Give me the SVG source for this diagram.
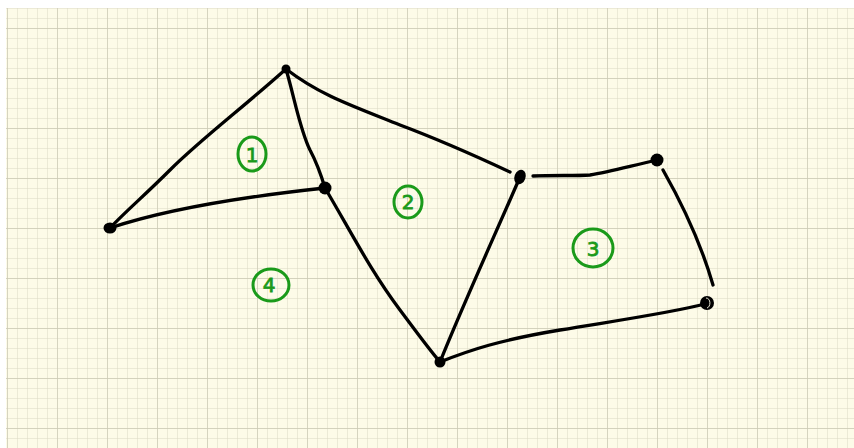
<svg xmlns="http://www.w3.org/2000/svg" width="854" height="448" viewBox="0 0 854 448">
<defs>
<pattern id="minor" x="7" y="8" width="10" height="10" patternUnits="userSpaceOnUse">
<path d="M0 0H10M0 0V10" fill="none" stroke="#dcd9c3" stroke-width="1"/>
</pattern>
<pattern id="major" x="7" y="28" width="50" height="50" patternUnits="userSpaceOnUse">
<path d="M0 0H50M0 0V50" fill="none" stroke="#cdcab5" stroke-width="1.4"/>
</pattern>
</defs>
<style>
.edge{fill:none;stroke:#000;stroke-width:3.3;stroke-linecap:round;stroke-linejoin:round}
.dot{fill:#000}
.ring{fill:none;stroke:#1a9a1a;stroke-width:3}
.lbl{fill:#1a9a1a;stroke:#1a9a1a;stroke-width:0.8;font-family:"DejaVu Sans",sans-serif;font-size:20px;text-anchor:middle}
</style>
<rect width="854" height="448" fill="#ffffff"/>
<rect x="6" y="8" width="848" height="440" fill="#fdfbe8"/>
<rect x="6" y="8" width="848" height="440" fill="url(#minor)"/>
<rect x="6" y="8" width="848" height="440" fill="url(#major)"/>
<g id="connectors">
<path class="edge" d="M286 69 C240 110 200 140 170 170 C145 195 125 212 110 228"/>
<path class="edge" d="M110 228 C170 208 250 196 325 188"/>
<path class="edge" d="M286 69 C295 100 300 130 310 150 C318 165 322 178 325 188"/>
<path class="edge" d="M286 69 C320 95 350 105 400 125 C440 140 480 158 510 172"/>
<path class="edge" d="M325 188 C350 230 370 270 400 310 C415 330 428 348 440 362"/>
<path class="edge" d="M440 362 C465 300 495 235 520 177"/>
<path class="edge" d="M533 176 C555 175 575 176 590 175 C610 172 630 166 657 160"/>
<path class="edge" d="M663 170 C680 200 700 240 713 285"/>
<path class="edge" d="M440 362 C470 350 500 340 560 330 C620 320 670 313 705 304"/>
</g>
<g id="node-a"><circle class="dot" cx="286" cy="69" r="4.5"/></g>
<g id="node-b"><ellipse class="dot" cx="110" cy="228" rx="6.5" ry="5.5"/></g>
<g id="node-c"><circle class="dot" cx="325" cy="188" r="6.5"/></g>
<g id="node-d"><ellipse class="dot" cx="520" cy="177" rx="5.5" ry="7.5" transform="rotate(20 520 177)"/></g>
<g id="node-e"><circle class="dot" cx="657" cy="160" r="6.5"/></g>
<g id="node-f"><circle class="dot" cx="707" cy="303" r="7"/><path d="M706 298 C711 298 711 307 707 308" fill="none" stroke="#fdfbe8" stroke-width="0.9"/></g>
<g id="node-g"><circle class="dot" cx="440" cy="362" r="5.5"/></g>
<g id="label-1"><ellipse class="ring" cx="252" cy="154" rx="14" ry="17"/><text class="lbl" x="252" y="162">1</text></g>
<g id="label-2"><ellipse class="ring" cx="408" cy="202" rx="14" ry="16"/><text class="lbl" x="408" y="209">2</text></g>
<g id="label-3"><ellipse class="ring" cx="593" cy="248" rx="20" ry="19"/><text class="lbl" x="593" y="256">3</text></g>
<g id="label-4"><ellipse class="ring" cx="271" cy="285" rx="18" ry="16"/><text class="lbl" x="269" y="292">4</text></g>
</svg>
